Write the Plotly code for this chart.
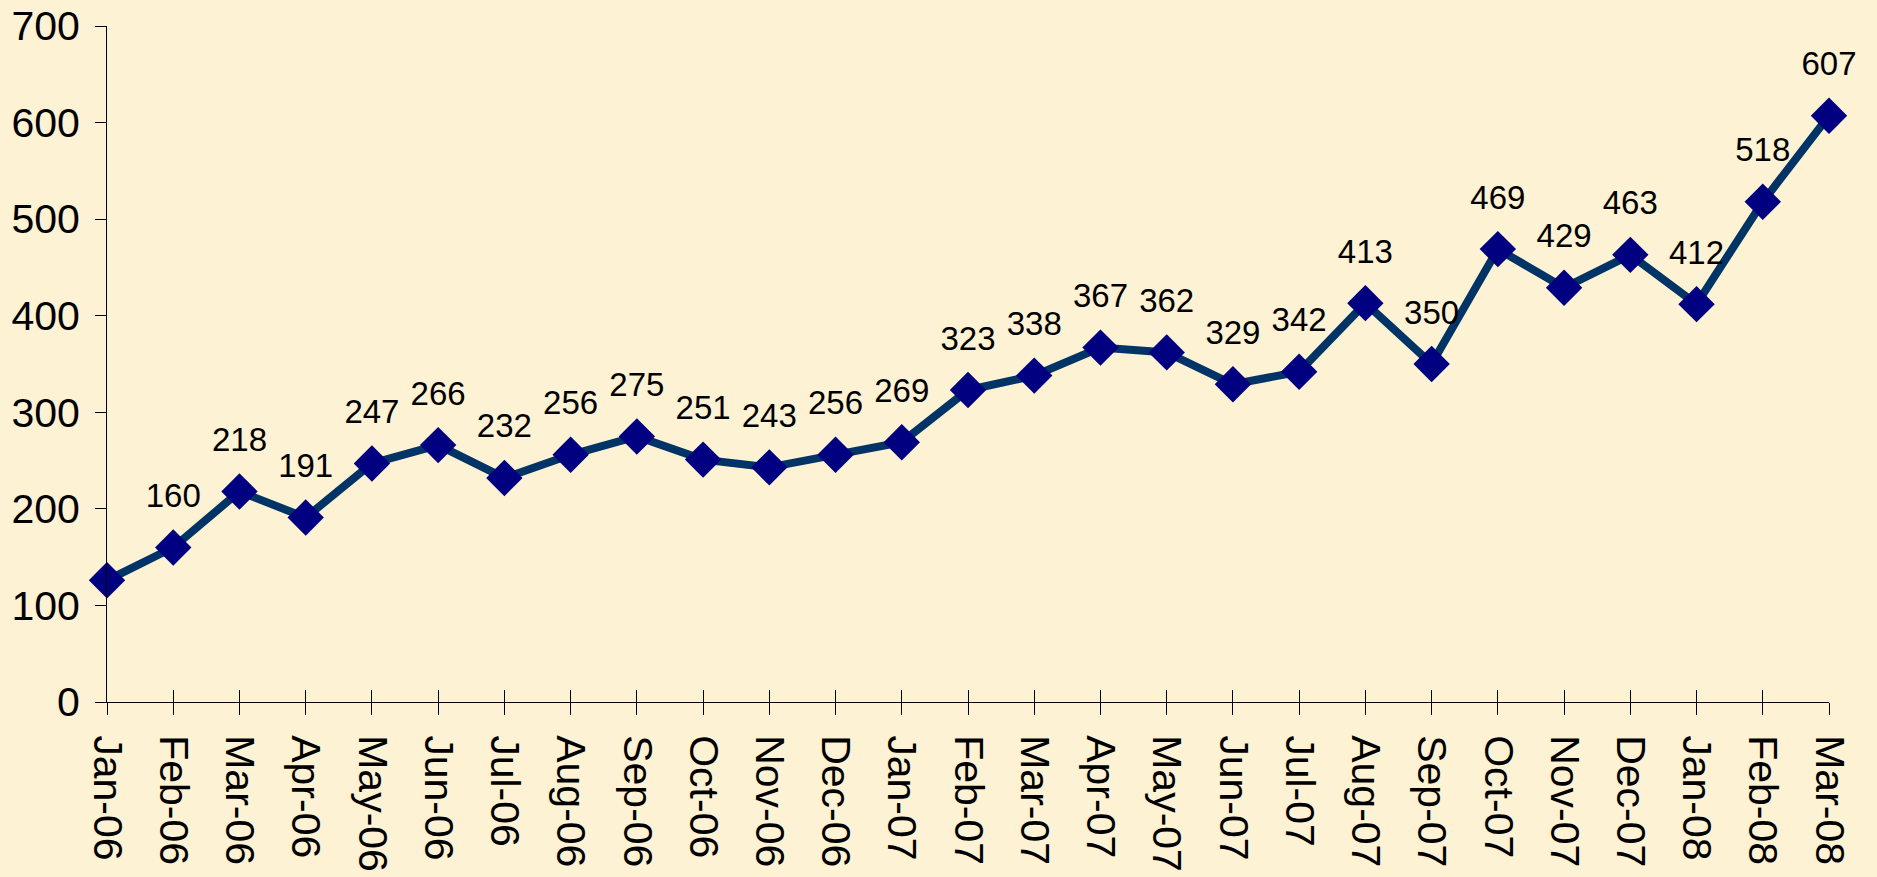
import plotly.graph_objects as go

months = ["Jan-06","Feb-06","Mar-06","Apr-06","May-06","Jun-06","Jul-06","Aug-06","Sep-06",
          "Oct-06","Nov-06","Dec-06","Jan-07","Feb-07","Mar-07","Apr-07","May-07","Jun-07",
          "Jul-07","Aug-07","Sep-07","Oct-07","Nov-07","Dec-07","Jan-08","Feb-08","Mar-08"]
values = [126,160,218,191,247,266,232,256,275,251,243,256,269,323,338,367,362,329,342,413,350,469,429,463,412,518,607]
labels = [""] + [str(v) for v in values[1:]]

idx = list(range(len(months)))
FONT = "Liberation Sans, Arial, sans-serif"
BG = "#FDF2D4"

fig = go.Figure()
fig.add_trace(go.Scatter(
    x=idx, y=values, mode="lines+markers",
    line=dict(color="#003366", width=8),
    marker=dict(symbol="diamond", size=28, color="#000080"),
    cliponaxis=False, showlegend=False,
))
# data labels (transparent larger markers to push text up)
fig.add_trace(go.Scatter(
    x=idx, y=values, mode="markers+text",
    text=labels, textposition="top center",
    textfont=dict(family=FONT, size=33, color="black"),
    marker=dict(size=50, color="rgba(0,0,0,0)"),
    cliponaxis=False, showlegend=False, hoverinfo="skip",
))
# invisible trace on second x-axis for crossing ticks
fig.add_trace(go.Scatter(x=idx, y=values, xaxis="x2", mode="none", showlegend=False, hoverinfo="skip"))

fig.update_layout(
    width=1877, height=877,
    paper_bgcolor=BG, plot_bgcolor=BG,
    margin=dict(l=107, r=48, t=26, b=175),
    font=dict(family=FONT, color="black"),
    xaxis=dict(range=[0, len(months)-1], tickmode="array", tickvals=idx, ticktext=months,
               tickangle=90, tickfont=dict(size=41), ticks="outside", ticklen=12,
               ticklabelstandoff=12,
               tickcolor="black", showline=True, linecolor="black", linewidth=1,
               showgrid=False, zeroline=False, automargin=False),
    xaxis2=dict(range=[0, len(months)-1], overlaying="x", side="bottom", anchor="y",
                tickmode="array", tickvals=idx, ticks="inside", ticklen=12, tickcolor="black",
                showticklabels=False, showline=False, showgrid=False, zeroline=False,
                automargin=False),
    yaxis=dict(range=[0, 700], tickvals=[0,100,200,300,400,500,600,700],
               tickfont=dict(size=41), ticks="outside", ticklen=11, tickcolor="black",
               ticklabelstandoff=7,
               showline=True, linecolor="black", linewidth=1, showgrid=False, zeroline=False,
               automargin=False),
)
fig.write_html("out.html", config={"displayModeBar": False},
               post_script="document.body.style.margin='0';document.body.style.background='%s';" % BG)
